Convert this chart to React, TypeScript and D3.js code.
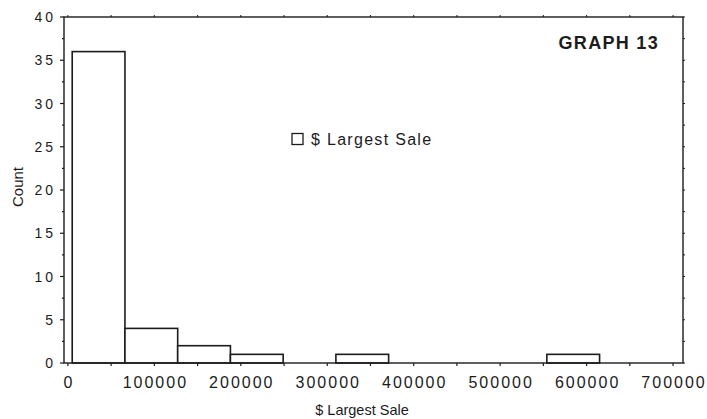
import React from "react";
import * as d3 from "d3";

// histogram bins: $ Largest Sale
const binEdges = [5000, 66000, 127000, 188000, 249000, 310000, 371000, 432000, 493000, 554000, 615000];
const counts = [36, 4, 2, 1, 0, 1, 0, 0, 0, 1];
const xTickValues = [0, 100000, 200000, 300000, 400000, 500000, 600000, 700000];
const yTickValues = [0, 5, 10, 15, 20, 25, 30, 35, 40];

const W = 707, H = 419;
const frame = { left: 64, right: 683, top: 17, bottom: 363 };
const ink = "#1c1c1c";
const font = "'Liberation Sans', Arial, sans-serif";

const App = () => {
  const x = d3.scaleLinear().domain([-4500, 711500]).range([frame.left, frame.right]);
  const y = d3.scaleLinear().domain([0, 40]).range([frame.bottom, frame.top]);

  const bins = counts.map((c, i) => ({ x0: binEdges[i], x1: binEdges[i] + 61000, count: c }))
    .filter((d) => d.count > 0);
  const minorX = d3.range(0, 700001, 50000);
  const minorY = d3.range(0, 40.1, 2.5);

  return (
    <div style={{ position: "absolute", left: 0, top: 0 }}>
      <svg width={W} height={H} style={{ display: "block", background: "#fff" }}>
        {/* bars */}
        {bins.map((d, i) => (
          <rect key={i} x={x(d.x0)} y={y(d.count)} width={x(d.x1) - x(d.x0)}
            height={y(0) - y(d.count)} fill="#fff" stroke={ink} strokeWidth={1.6} />
        ))}

        {/* frame */}
        <rect x={frame.left} y={frame.top} width={frame.right - frame.left}
          height={frame.bottom - frame.top} fill="none" stroke={ink} strokeWidth={1.4} />

        {/* x ticks bottom and top */}
        {minorX.map((v) => (
          <g key={"xt" + v}>
            <line x1={x(v)} x2={x(v)} y1={frame.bottom} y2={frame.bottom + 3} stroke={ink} strokeWidth={1.2} />
            <line x1={x(v)} x2={x(v)} y1={frame.top} y2={frame.top - 2} stroke={ink} strokeWidth={1} />
          </g>
        ))}
        {xTickValues.map((v) => (
          <text key={"xl" + v} x={x(v) + 1} y={388} textAnchor="middle" fontFamily={font}
            fontSize={16} letterSpacing={2} fill={ink}>{v}</text>
        ))}

        {/* y ticks left and right */}
        {minorY.map((v) => (
          <g key={"yt" + v}>
            <line x1={frame.left} x2={frame.left - (v % 5 === 0 ? 4 : 2)} y1={y(v)} y2={y(v)} stroke={ink} strokeWidth={1.2} />
            <line x1={frame.right} x2={frame.right + 2} y1={y(v)} y2={y(v)} stroke={ink} strokeWidth={1} />
          </g>
        ))}
        {yTickValues.map((v) => (
          <text key={"yl" + v} x={56} y={y(v) + 5} textAnchor="end" fontFamily={font}
            fontSize={14} letterSpacing={3} fill={ink}>{v}</text>
        ))}

        {/* axis titles */}
        <text x={362} y={415} textAnchor="middle" fontFamily={font} fontSize={14.5} fill={ink}>$ Largest Sale</text>
        <text transform={`translate(23,187) rotate(-90)`} textAnchor="middle"
          fontFamily={font} fontSize={15} fill={ink}>Count</text>

        {/* legend */}
        <rect x={292} y={133.5} width={11} height={11} fill="#fff" stroke={ink} strokeWidth={1.3} />
        <text x={311} y={145} fontFamily={font} fontSize={16} letterSpacing={1.3} fill={ink}>$ Largest Sale</text>

        {/* graph label */}
        <text x={659} y={49} textAnchor="end" fontFamily={font} fontSize={18} fontWeight="bold"
          letterSpacing={1.3} fill={ink}>GRAPH 13</text>
      </svg>
    </div>
  );
};

export default App;
